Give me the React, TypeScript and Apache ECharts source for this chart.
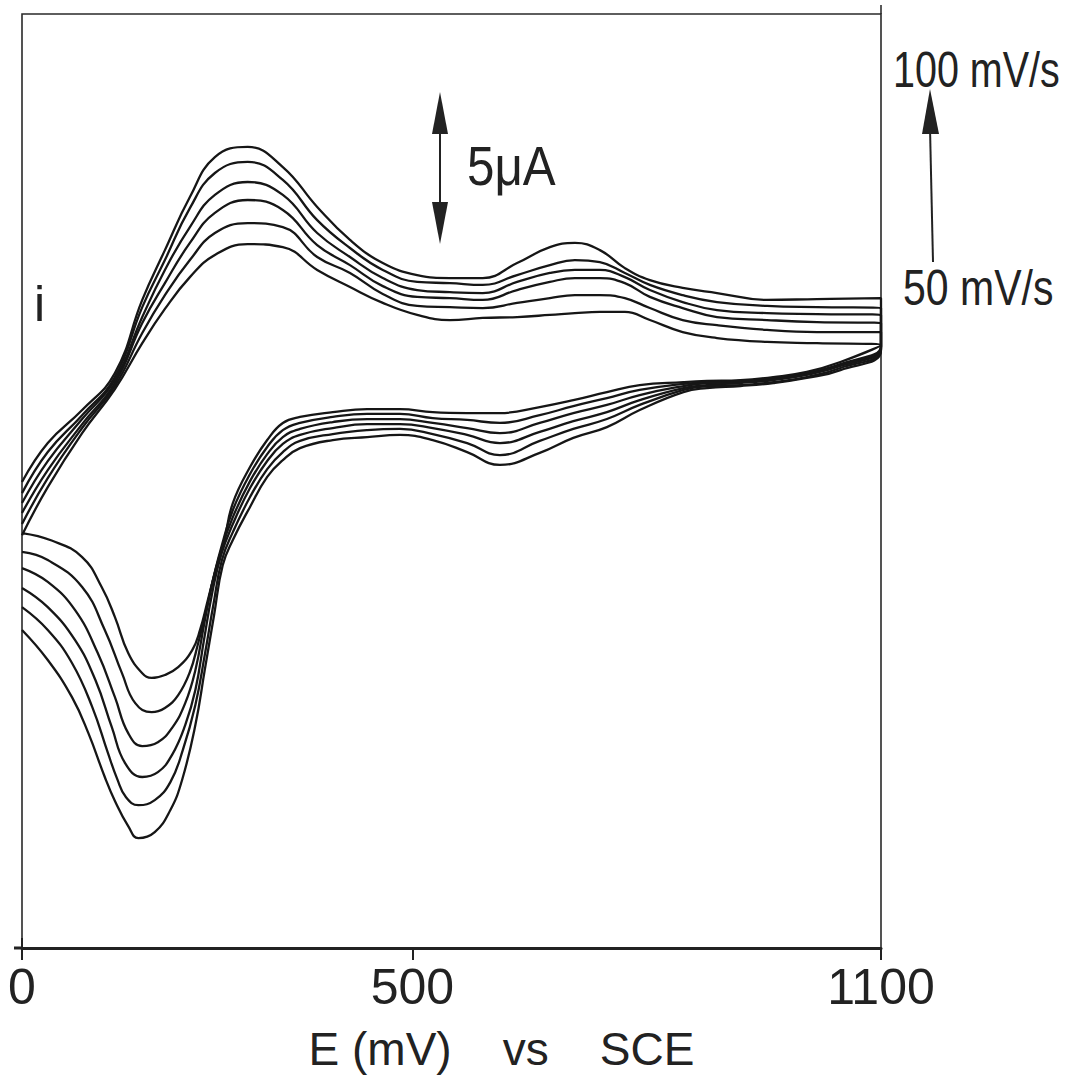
import React, { useEffect, useRef } from "react";
import * as echarts from "echarts";

// Potential E (mV vs SCE) sampled along the anodic (forward) sweep
const anodicE = [0, 33, 77, 119, 154, 183, 215, 247, 289, 334, 378, 420, 462, 506, 548, 590, 634, 676, 708, 740, 772, 804, 846, 890, 954, 1018, 1100];

// Anodic currents (µA) for each scan rate
const anodic50 = [-6.37, -4.77, -2.97, -1.5, 0.03, 1.17, 2.23, 2.97, 3.33, 3.23, 2.47, 1.9, 1.37, 0.97, 0.8, 0.87, 0.9, 0.97, 1.03, 1.07, 1.07, 0.8, 0.4, 0.2, 0.07, 0.03, -0.03];
const anodic60 = [-6.0, -4.47, -2.8, -1.4, 0.37, 1.63, 2.8, 3.7, 4.03, 3.9, 2.9, 2.37, 1.67, 1.27, 1.23, 1.2, 1.37, 1.53, 1.63, 1.63, 1.53, 1.2, 0.8, 0.63, 0.47, 0.4, 0.4];
const anodic70 = [-5.63, -4.2, -2.67, -1.3, 0.7, 2.03, 3.37, 4.37, 4.8, 4.47, 3.3, 2.63, 1.93, 1.57, 1.53, 1.47, 1.8, 2.07, 2.2, 2.2, 2.03, 1.57, 1.2, 0.9, 0.8, 0.73, 0.7];
const anodic80 = [-5.3, -3.9, -2.5, -1.2, 0.9, 2.47, 3.9, 4.97, 5.4, 4.97, 3.7, 2.9, 2.2, 1.8, 1.73, 1.7, 2.07, 2.37, 2.47, 2.47, 2.23, 1.8, 1.4, 1.13, 1.03, 1.0, 0.97];
const anodic90 = [-4.97, -3.6, -2.37, -1.1, 1.23, 2.8, 4.53, 5.7, 6.07, 5.47, 4.13, 3.2, 2.47, 2.07, 2.03, 1.97, 2.3, 2.63, 2.8, 2.73, 2.37, 1.97, 1.63, 1.4, 1.27, 1.23, 1.2];
const anodic100 = [-4.6, -3.3, -2.2, -0.97, 1.47, 3.13, 4.9, 6.23, 6.57, 5.9, 4.57, 3.47, 2.7, 2.3, 2.2, 2.2, 2.7, 3.23, 3.37, 3.13, 2.53, 2.13, 1.87, 1.7, 1.47, 1.5, 1.53];

// Potential sampled along the cathodic (reverse) sweep, down to ~290 mV
const cathodicE = [1100, 1048, 1005, 962, 920, 877, 847, 791, 749, 706, 663, 612, 570, 526, 484, 442, 398, 356, 334, 314, 292];

const cathodic50 = [-0.03, -0.6, -0.93, -1.1, -1.2, -1.23, -1.27, -1.37, -1.6, -1.87, -2.1, -2.3, -2.3, -2.27, -2.17, -2.17, -2.27, -2.43, -2.63, -3.2, -4.1];
const cathodic60 = [-0.07, -0.67, -0.97, -1.13, -1.23, -1.27, -1.33, -1.53, -1.8, -2.07, -2.37, -2.63, -2.53, -2.47, -2.33, -2.33, -2.43, -2.63, -2.87, -3.43, -4.33];
const cathodic70 = [-0.1, -0.7, -1.0, -1.17, -1.27, -1.3, -1.4, -1.7, -2.03, -2.3, -2.63, -2.97, -2.8, -2.63, -2.5, -2.5, -2.6, -2.83, -3.1, -3.67, -4.57];
const cathodic80 = [-0.13, -0.73, -1.03, -1.2, -1.3, -1.37, -1.47, -1.87, -2.27, -2.57, -2.93, -3.3, -3.03, -2.8, -2.67, -2.67, -2.8, -3.03, -3.33, -3.9, -4.8];
const cathodic90 = [-0.17, -0.8, -1.1, -1.27, -1.37, -1.4, -1.53, -2.03, -2.5, -2.83, -3.23, -3.7, -3.3, -3.0, -2.83, -2.87, -3.0, -3.23, -3.6, -4.17, -5.1];
const cathodic100 = [-0.2, -0.87, -1.13, -1.3, -1.4, -1.47, -1.6, -2.2, -2.77, -3.13, -3.63, -4.03, -3.6, -3.2, -3.03, -3.1, -3.2, -3.47, -3.87, -4.43, -5.43];

// Cathodic peak region [E mV, i µA], from ~270 mV back to 0 mV
const valley50 = [[270, -5.3], [259, -6.53], [248, -7.53], [238, -8.53], [228, -9.53], [218, -10.2], [200, -10.77], [183, -11.03], [166, -11.13], [154, -10.97], [136, -10.3], [119, -9.1], [102, -8.1], [77, -7.1], [38, -6.55], [0, -6.3]];
const valley60 = [[270, -5.53], [256, -6.7], [246, -7.7], [236, -8.87], [225, -10.03], [215, -10.93], [200, -11.7], [183, -12.13], [166, -12.27], [145, -11.97], [128, -10.97], [106, -9.53], [77, -8.1], [33, -7.2], [0, -6.93]];
const valley70 = [[270, -5.77], [255, -6.87], [243, -8.03], [233, -9.37], [222, -10.87], [209, -11.97], [192, -12.8], [174, -13.27], [154, -13.4], [136, -12.97], [119, -11.77], [97, -10.3], [68, -8.87], [33, -7.93], [0, -7.47]];
const valley80 = [[270, -6.0], [255, -7.03], [243, -8.37], [233, -9.87], [222, -11.53], [209, -12.7], [192, -13.7], [174, -14.27], [154, -14.43], [132, -13.97], [115, -12.77], [94, -11.2], [68, -9.87], [33, -8.77], [0, -8.13]];
const valley90 = [[270, -6.27], [256, -7.2], [245, -8.7], [234, -10.37], [222, -12.03], [206, -13.53], [190, -14.6], [170, -15.2], [149, -15.37], [133, -15.1], [122, -14.5], [110, -13.63], [90, -12.1], [64, -10.63], [33, -9.53], [0, -8.77]];
const valley100 = [[270, -6.53], [257, -7.37], [246, -9.03], [234, -10.87], [222, -12.7], [205, -14.53], [190, -15.53], [170, -16.27], [149, -16.47], [136, -16.07], [119, -15.23], [106, -14.43], [85, -12.97], [64, -11.77], [33, -10.53], [0, -9.53]];

const scanRates = ["50 mV/s", "60 mV/s", "70 mV/s", "80 mV/s", "90 mV/s", "100 mV/s"];
const xTickValues = [0, 500, 1100];

const FONT = "'Liberation Sans', Arial, sans-serif";
const INK = "#222";

function buildLoop(an: number[], ca: number[], va: number[][]) {
  const pts: number[][] = [];
  anodicE.forEach((e, k) => pts.push([e, an[k]]));
  cathodicE.forEach((e, k) => pts.push([e, ca[k]]));
  va.forEach((p) => pts.push(p));
  return pts;
}

export default function App() {
  const ref = useRef<HTMLDivElement>(null);

  useEffect(() => {
    if (!ref.current) return;
    const chart = echarts.init(ref.current, null, { renderer: "svg" });

    const loops = [
      buildLoop(anodic50, cathodic50, valley50),
      buildLoop(anodic60, cathodic60, valley60),
      buildLoop(anodic70, cathodic70, valley70),
      buildLoop(anodic80, cathodic80, valley80),
      buildLoop(anodic90, cathodic90, valley90),
      buildLoop(anodic100, cathodic100, valley100),
    ];

    const option: any = {
      animation: false,
      backgroundColor: "#ffffff",
      grid: {
        left: 22,
        top: 14,
        right: 187,
        bottom: 131,
        show: true,
        borderColor: "#2a2a2a",
        borderWidth: 1.6,
        backgroundColor: "transparent",
      },
      xAxis: {
        type: "value",
        min: 0,
        max: 1100,
        axisLine: { show: true, onZero: false, lineStyle: { color: INK, width: 3 } },
        axisTick: { show: true, customValues: xTickValues, length: 12, lineStyle: { color: INK, width: 2 } },
        axisLabel: {
          customValues: xTickValues,
          margin: 14,
          fontSize: 50,
          fontFamily: FONT,
          color: INK,
          formatter: (v: number) => String(v),
        },
        splitLine: { show: false },
        name: "E\u00a0(mV)\u00a0\u00a0\u00a0\u00a0vs\u00a0\u00a0\u00a0\u00a0SCE",
        nameLocation: "middle",
        nameGap: 78,
        nameTextStyle: { fontSize: 46, fontFamily: FONT, color: INK, padding: [0, 0, 0, 100] },
      },
      yAxis: {
        type: "value",
        min: -20.13,
        max: 11,
        axisLine: { show: false },
        axisTick: { show: false },
        axisLabel: { show: false },
        splitLine: { show: false },
        name: "i",
        nameLocation: "end",
        nameGap: -290,
        nameTextStyle: {
          fontSize: 50,
          fontFamily: FONT,
          color: INK,
          align: "left",
          verticalAlign: "middle",
          padding: [0, 0, 0, 12],
        },
      },
      series: loops.map((data, k) => ({
        name: scanRates[k],
        type: "line",
        data,
        symbol: "none",
        showSymbol: false,
        smooth: 0.45,
        silent: true,
        lineStyle: { color: "#161616", width: 2.3 },
        z: 3,
      })),
      graphic: [
        { type: "line", shape: { x1: 440, y1: 128, x2: 440, y2: 206 }, style: { stroke: INK, lineWidth: 2 } },
        { type: "polygon", shape: { points: [[440, 92], [432, 134], [448, 134]] }, style: { fill: INK } },
        { type: "polygon", shape: { points: [[440, 244], [432, 202], [448, 202]] }, style: { fill: INK } },
        {
          type: "text",
          x: 467,
          y: 165,
          scaleX: 0.88,
          style: { text: "5\u03bcA", fontSize: 56, fontFamily: FONT, fill: INK, align: "left", verticalAlign: "middle" },
        },
        { type: "line", shape: { x1: 933, y1: 262, x2: 930, y2: 128 }, style: { stroke: INK, lineWidth: 2 } },
        { type: "polygon", shape: { points: [[930, 89], [922, 134], [939, 134]] }, style: { fill: INK } },
        {
          type: "text",
          x: 893,
          y: 70,
          scaleX: 0.79,
          style: { text: "100\u00a0mV/s", fontSize: 50, fontFamily: FONT, fill: INK, align: "left", verticalAlign: "middle" },
        },
        {
          type: "text",
          x: 903,
          y: 288,
          scaleX: 0.82,
          style: { text: "50\u00a0mV/s", fontSize: 50, fontFamily: FONT, fill: INK, align: "left", verticalAlign: "middle" },
        },
        { type: "line", shape: { x1: 881, y1: 5, x2: 881, y2: 14 }, style: { stroke: INK, lineWidth: 1.5 } },
        { type: "line", shape: { x1: 14, y1: 948, x2: 22, y2: 948 }, style: { stroke: INK, lineWidth: 3 } },
        { type: "line", shape: { x1: 22, y1: 938, x2: 22, y2: 948 }, style: { stroke: INK, lineWidth: 2 } },
      ],
    };

    chart.setOption(option);
    return () => chart.dispose();
  }, []);

  return (
    <div
      ref={ref}
      style={{ position: "fixed", left: 0, top: 0, width: 1068, height: 1079, background: "#fff" }}
    />
  );
}
